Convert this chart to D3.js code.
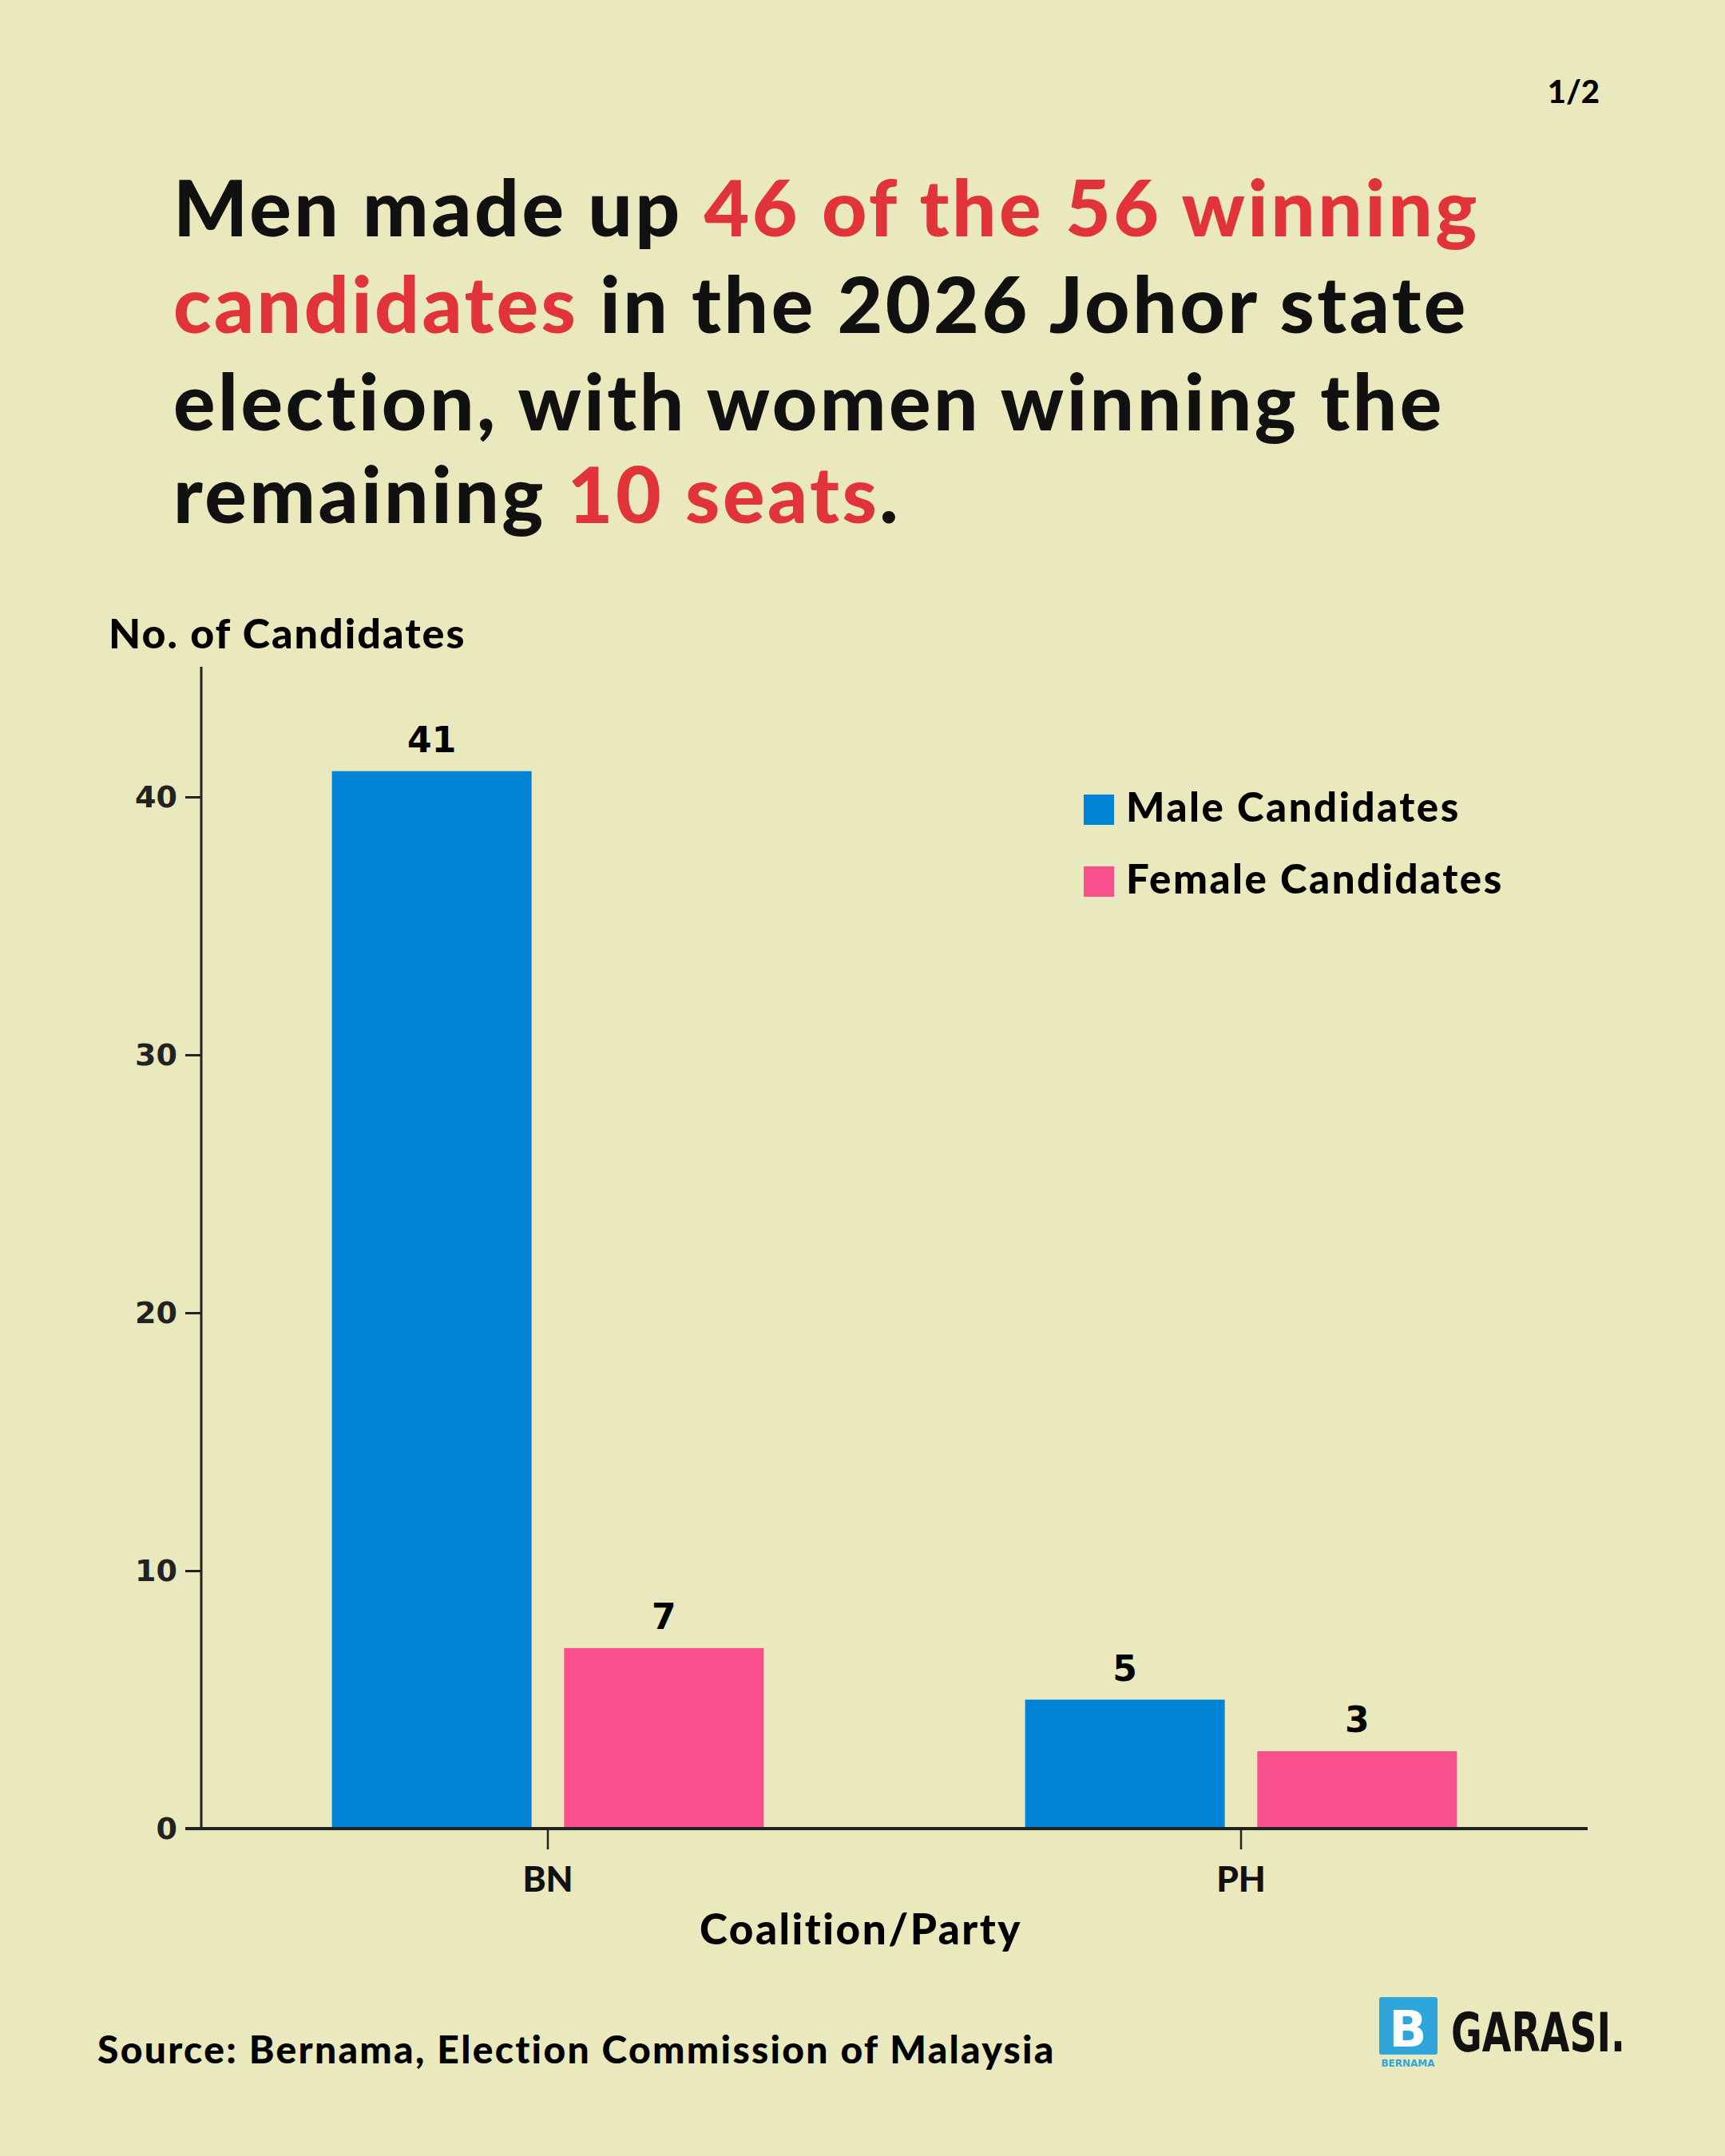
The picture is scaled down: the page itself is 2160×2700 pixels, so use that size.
<!DOCTYPE html>
<html><head><meta charset="utf-8">
<script src="https://cdn.jsdelivr.net/npm/d3@7"></script>
<style>body{margin:0;background:#e9e9bd}</style>
</head><body>
<script>
const categories = ["BN","PH"];
const seriesNames = ["Male Candidates","Female Candidates"];
const male = [41,5];
const female = [7,3];
const yTicks = [0,10,20,30,40];
const colors = ["#0284d6","#f7508c"];

const W=2160,H=2700;
const svg=d3.select("body").append("svg").attr("width",W).attr("height",H);
svg.append("rect").attr("width",W).attr("height",H).attr("fill","#e9e9bd");
const TF="'Lato','Noto Sans',sans-serif";

svg.append("text").attr("x",2003).attr("y",129).attr("text-anchor","end")
  .attr("font-family",TF).attr("font-weight",900).attr("font-size",40).text("1/2");

const red="#e0333a";
const lines=[
 [["Men made up ",0],["46 of the 56 winning",1]],
 [["candidates",1],[" in the 2026 Johor state",0]],
 [["election, with women winning the",0]],
 [["remaining ",0],["10 seats",1],[".",0]]
];
const by=[296,417,539,655];
lines.forEach((l,i)=>{
  const t=svg.append("text").attr("x",217).attr("y",by[i]).attr("font-family",TF)
   .attr("font-weight",900).attr("font-size",98).attr("letter-spacing",3.5).attr("fill","#111");
  l.forEach(s=>t.append("tspan").attr("fill",s[1]?red:"#111").text(s[0]));
});

const x0=252,x1=1988,yb=2290;
const y=d3.scaleLinear().domain([0,40]).range([yb,998]);
const x=d3.scaleBand().domain(categories).range([x0,x1]).paddingInner(0.377).paddingOuter(0.1885);
const xs=d3.scaleBand().domain([0,1]).range([0,x.bandwidth()]).paddingInner(0.14);

svg.append("text").attr("x",136).attr("y",812).attr("font-family",TF).attr("font-weight",900)
  .attr("font-size",52).attr("letter-spacing",2).text("No. of Candidates");

const data=categories.map((c,i)=>({c,v:[male[i],female[i]]}));
data.forEach(d=>{
  d.v.forEach((v,j)=>{
    const bx=x(d.c)+xs(j);
    svg.append("rect").attr("x",bx).attr("y",y(v)).attr("width",xs.bandwidth()).attr("height",yb-y(v)).attr("fill",colors[j]);
    svg.append("text").attr("x",bx+xs.bandwidth()/2).attr("y",y(v)-24).attr("text-anchor","middle")
      .attr("font-family","'DejaVu Sans',sans-serif").attr("font-weight","bold").attr("font-size",44).text(v);
  });
});

const ya=svg.append("g").attr("transform",`translate(${x0},0)`)
  .call(d3.axisLeft(y).tickValues(yTicks).tickSize(20).tickPadding(10));
ya.select(".domain").remove();
ya.selectAll("line").attr("stroke","#222").attr("stroke-width",3);
ya.selectAll("text").attr("font-family","'DejaVu Sans',sans-serif").attr("font-weight","bold").attr("font-size",38).attr("fill","#222");
svg.append("line").attr("x1",x0).attr("x2",x0).attr("y1",835).attr("y2",yb).attr("stroke","#222").attr("stroke-width",3);

const xa=svg.append("g").attr("transform",`translate(0,${yb})`)
  .call(d3.axisBottom(x).tickSize(26).tickPadding(22));
xa.select(".domain").remove();
xa.selectAll("line").attr("stroke","#222").attr("stroke-width",2.5);
xa.selectAll("text").attr("font-family",TF).attr("font-weight",900).attr("font-size",44).attr("fill","#111");
svg.append("line").attr("x1",x0-20).attr("x2",x1).attr("y1",yb).attr("y2",yb).attr("stroke","#222").attr("stroke-width",4);

svg.append("text").attr("x",1078).attr("y",2435).attr("text-anchor","middle").attr("font-family",TF)
 .attr("font-weight",900).attr("font-size",53).attr("letter-spacing",2.5).text("Coalition/Party");

seriesNames.forEach((s,i)=>{
  const ly=995+i*90;
  svg.append("rect").attr("x",1357).attr("y",ly).attr("width",38).attr("height",38).attr("fill",colors[i]);
  svg.append("text").attr("x",1410).attr("y",ly+34).attr("font-family",TF).attr("font-weight",900)
    .attr("font-size",51).attr("letter-spacing",2.5).text(s);
});

svg.append("text").attr("x",122).attr("y",2584).attr("font-family",TF).attr("font-weight",900)
 .attr("font-size",48).attr("letter-spacing",2.3).text("Source: Bernama, Election Commission of Malaysia");

// logo
svg.append("rect").attr("x",1727).attr("y",2501).attr("width",73).attr("height",72).attr("rx",3).attr("fill","#2ea6dc");
svg.append("text").attr("x",1763).attr("y",2563).attr("text-anchor","middle").attr("font-family","'DejaVu Sans',sans-serif")
 .attr("font-weight","bold").attr("font-size",62).attr("fill","#fff").text("B");
svg.append("text").attr("x",1763).attr("y",2588).attr("text-anchor","middle").attr("font-family","'DejaVu Sans',sans-serif")
 .attr("font-weight","bold").attr("font-size",12).attr("fill","#2ea6dc").text("BERNAMA");
svg.append("text").attr("x",1817).attr("y",2569).attr("font-family","'Liberation Sans Narrow','DejaVu Sans Condensed',sans-serif")
 .attr("font-weight","bold").attr("font-size",68).attr("textLength",218).attr("lengthAdjust","spacingAndGlyphs").attr("fill","#111").text("GARASI.");
</script>
</body></html>
